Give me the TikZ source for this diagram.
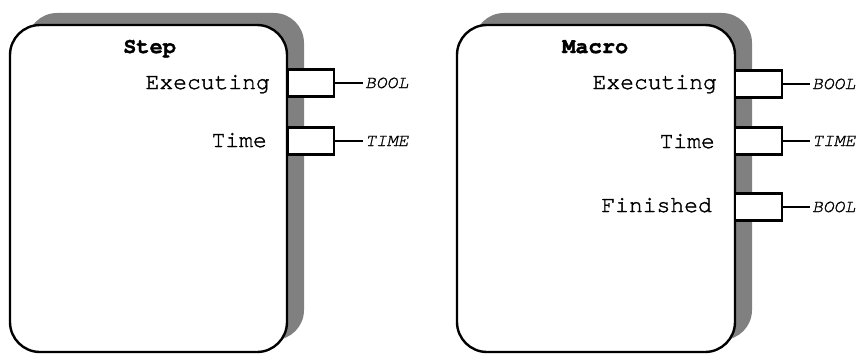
\documentclass[tikz,border=0pt]{standalone}
\usepackage{fontspec}
\setmonofont{texgyrecursor}[Extension=.otf,UprightFont=*-regular,BoldFont=*-bold,ItalicFont=*-italic,BoldItalicFont=*-bolditalic,UprightFeatures={FakeBold=1.6},ItalicFeatures={FakeBold=1.2},BoldFeatures={FakeBold=1.5}]
\usetikzlibrary{patterns}

\begin{document}
\begin{tikzpicture}[x=1pt,y=-1pt,
    block/.style={draw,line width=2.4pt,rounded corners=30pt,fill=white,inner sep=0pt},
    shade/.style={fill=black!50,rounded corners=30pt},
    port/.style={draw,line width=2.4pt,fill=white,minimum height=27pt,inner sep=0pt},
    sig/.style={font=\ttfamily\fontsize{23}{23}\selectfont,anchor=base east,inner sep=0pt},
    typ/.style={font=\ttfamily\itshape\fontsize{18}{18}\selectfont,anchor=base west,inner sep=0pt},
    title/.style={font=\ttfamily\bfseries\fontsize{22}{22}\selectfont,anchor=base west,inner sep=0pt}]
    \useasboundingbox (0,0) rectangle (861,353);

    % Schatten
    \path[shade] (27,13) rectangle (304,340);
    \path[shade] (474,13) rectangle (752,340);

    % Bausteine
    \draw[block] (10,25) rectangle (287,352);
    \draw[block] (457,25) rectangle (735,352);

    % Step
    \node[title] (steptitle) at (123,53) {Step};
    \foreach \n/\y/\typ in {1/83/BOOL,2/141/TIME} {
        \node[port,minimum width=46pt] (sp\n) at (311,\y) {};
        \node[typ] (st\n) at (365,\y+5) {\typ};
        \draw[line width=1.5pt] (sp\n.east) -- ([xshift=-2pt]st\n.west |- sp\n.east);
    }
    \node[sig] (sexec) at (270,89) {Executing};
    \node[sig] (stime) at (267,147) {Time};

    % Macro
    \node[title] (macrotitle) at (562,53) {Macro};
    \foreach \n/\y/\typ in {1/84/BOOL,2/141/TIME,3/207/BOOL} {
        \node[port,minimum width=47pt] (mp\n) at (758.5,\y) {};
        \node[typ] (mt\n) at (812,\y+5) {\typ};
        \draw[line width=2pt] (mp\n.east) -- ([xshift=-2pt]mt\n.west |- mp\n.east);
    }
    \node[sig] (mexec) at (717,89) {Executing};
    \node[sig] (mtime) at (715,148) {Time};
    \node[sig] (mfin) at (712,212) {Finished};
\end{tikzpicture}
\end{document}
